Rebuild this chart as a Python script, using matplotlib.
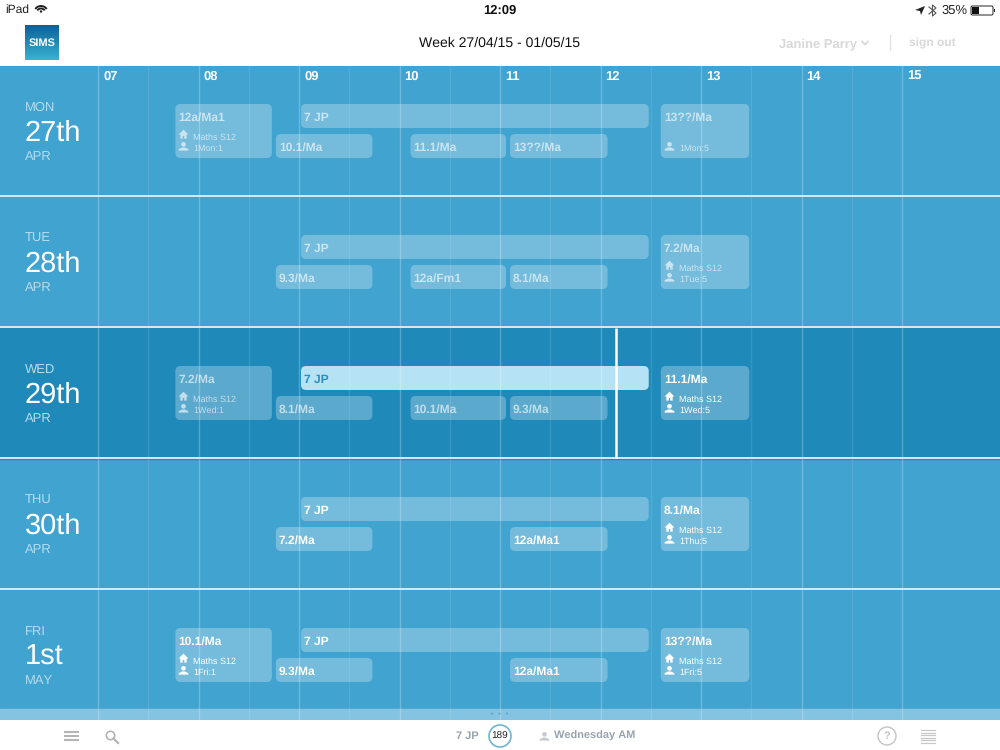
#!/usr/bin/env python

import numpy as np
from matplotlib import pyplot as plt
from matplotlib.patches import FancyBboxPatch, Rectangle, Circle, Arc, Polygon
from matplotlib.path import Path

plt.rcParams['font.family'] = ['Liberation Sans', 'DejaVu Sans']
plt.rcParams['text.hinting'] = 'no_hinting'
plt.rcParams['text.hinting_factor'] = 1

days = ['MON', 'TUE', 'WED', 'THU', 'FRI']
dates = ['27th', '28th', '29th', '30th', '1st']
months = ['APR', 'APR', 'APR', 'APR', 'MAY']
hours = [7, 8, 9, 10, 11, 12, 13, 14, 15]
half_hours = [7.5, 8.5, 9.5, 10.5, 11.5, 12.5, 13.5, 14.5]

reg_start, reg_end = 9.02, 12.48
reg_label = '7 JP'
p1_start, p1_end = 7.77, 8.73
p2_start, p2_end = 8.77, 9.73
p3_start, p3_end = 10.11, 11.06
p4_start, p4_end = 11.10, 12.07
p5_start, p5_end = 12.60, 13.48

p1_labels = ['12a/Ma1', None, '7.2/Ma', None, '10.1/Ma']
p2_labels = ['10.1/Ma', '9.3/Ma', '8.1/Ma', '7.2/Ma', '9.3/Ma']
p3_labels = ['11.1/Ma', '12a/Fm1', '10.1/Ma', None, None]
p4_labels = ['13??/Ma', '8.1/Ma', '9.3/Ma', '12a/Ma1', '12a/Ma1']
p5_labels = ['13??/Ma', '7.2/Ma', '11.1/Ma', '8.1/Ma', '13??/Ma']
p1_rooms = ['Maths S12', None, 'Maths S12', None, 'Maths S12']
p5_rooms = [None, 'Maths S12', 'Maths S12', 'Maths S12', 'Maths S12']
p1_codes = ['1Mon:1', None, '1Wed:1', None, '1Fri:1']
p5_codes = ['1Mon:5', '1Tue:5', '1Wed:5', '1Thu:5', '1Fri:5']

today = 2
now = 12.15

ROW = 131.0
HOUR = 100.5
BLUE = '#41a3d0'
DARK = '#1f8aba'

fig = plt.figure(figsize=(10, 7.5), dpi=100, facecolor='white')
ax = fig.add_axes([0, 30 / 750, 1, 654 / 750])
ax.set_xlim(7 - 98 / HOUR, 7 + 902 / HOUR)
ax.set_ylim(654 / ROW, 0)
ax.axis('off')

# pixel overlay for the app chrome
top = fig.add_axes([0, 0, 1, 1], zorder=5)
top.set_xlim(0, 1000)
top.set_ylim(750, 0)
top.axis('off')
top.patch.set_alpha(0)

# marker paths are y-up
house = Path([(-1, 0), (0, 1), (1, 0), (0.65, 0), (0.65, -0.85), (0.15, -0.85),
              (0.15, -0.3), (-0.15, -0.3), (-0.15, -0.85), (-0.65, -0.85),
              (-0.65, 0), (-1, 0)])
head = Path.circle((0, 0.45), 0.48)
body = Path([(-1, -0.85), (-1, -0.55), (-0.3, -0.2), (0.3, -0.2), (1, -0.55),
             (1, -0.85), (-1, -0.85)])
person = Path.make_compound_path(head, body)

ax.add_patch(Rectangle((ax.get_xlim()[0], 0), 10, 654 / ROW, color=BLUE, zorder=0))
ax.add_patch(Rectangle((ax.get_xlim()[0], today), 10, 1, color=DARK, zorder=0))
ax.add_patch(Rectangle((ax.get_xlim()[0], 643 / ROW), 10, 11 / ROW,
                       color='#84c3e2', zorder=0.5))


def bar(day, start, end, y0, y1, color, alpha=0.27):
    box = FancyBboxPatch((start, day + y0 / ROW), end - start, (y1 - y0) / ROW,
                         boxstyle='round,pad=0,rounding_size=0.05',
                         mutation_aspect=HOUR / ROW, fc=color, ec='none',
                         alpha=alpha, zorder=2)
    ax.add_patch(box)


def lesson(day, start, end, label, tall=False, lower=False, room=None, code=None):
    if label is None:
        return
    past = day < today or (day == today and end < now)
    y0, y1 = 38, 92
    if not tall:
        y0 = 68 if lower else 38
        y1 = y0 + 24
    bar(day, start, end, y0, y1, 'white')
    col = 'white'
    a = 0.62 if past else 1.0
    ax.text(start + 0.03, day + (y0 + 13.5) / ROW, label, color=col, alpha=a,
            fontsize=8.6, fontweight='bold', va='center', zorder=4)
    if room:
        ax.plot(start + 0.08, day + 68 / ROW, marker=house, ms=7, mfc=col, mec='none',
                alpha=a, zorder=4)
        ax.text(start + 0.18, day + 71.5 / ROW, room, color=col, alpha=a,
                fontsize=6.6, va='center', zorder=4)
    if code:
        ax.plot(start + 0.08, day + 80 / ROW, marker=person, ms=7, mfc=col, mec='none',
                alpha=a, zorder=4)
        ax.text(start + 0.18, day + 83 / ROW, code, color=col, alpha=a,
                fontsize=6.6, va='center', zorder=4)


for h in half_hours:
    ax.axvline(h, color='white', alpha=0.1, lw=1, zorder=3)
for h in hours:
    ax.axvline(h, color='white', alpha=0.24, lw=1, zorder=3)
    ax.text(h + 0.05, 10.5 / ROW, '%02d' % h, color='white', fontsize=9.3,
            fontweight='bold', va='center', zorder=4)

for i in range(5):
    ax.text(25 / HOUR + ax.get_xlim()[0], i + 42 / ROW, days[i], color='#b4dcf0',
            fontsize=9.5, va='center')
    ax.text(24.5 / HOUR + ax.get_xlim()[0], i + 67.5 / ROW, dates[i], color='white',
            fontsize=21, va='center')
    ax.text(25 / HOUR + ax.get_xlim()[0], i + 91 / ROW, months[i], color='#b4dcf0',
            fontsize=9.5, va='center')

    if i == today:
        bar(i, reg_start, reg_end, 38, 62, '#b5e3f5', alpha=1.0)
        ax.text(reg_start + 0.03, i + 51.5 / ROW, reg_label, color='#2a8fbf', fontsize=8.6,
                fontweight='bold', va='center', zorder=4)
    else:
        lesson(i, reg_start, reg_end, reg_label)
    lesson(i, p1_start, p1_end, p1_labels[i], tall=True, room=p1_rooms[i], code=p1_codes[i])
    lesson(i, p2_start, p2_end, p2_labels[i], lower=True)
    lesson(i, p3_start, p3_end, p3_labels[i], lower=True)
    lesson(i, p4_start, p4_end, p4_labels[i], lower=True)
    lesson(i, p5_start, p5_end, p5_labels[i], tall=True, room=p5_rooms[i], code=p5_codes[i])

for i in range(1, 5):
    ax.axhline(i - 0.7 / ROW, color='#d3ebf6', lw=1.4, zorder=3)
ax.plot([now, now], [today, today + 1 - 0.7 / ROW], color='white', lw=1.8, zorder=5,
        solid_capstyle='butt')

# status bar
top.text(5, 10, 'iPad', color='#222222', fontsize=8.5, va='center')
for r, t in [(7, 1.4), (4.5, 1.4)]:
    top.add_patch(Arc((41, 13), 2 * r, 2 * r, theta1=215, theta2=325, color='#222222', lw=t))
top.add_patch(Circle((41, 11.5), 1.2, color='#222222', lw=0))
top.text(500, 10.5, '12:09', color='#111111', fontsize=9, fontweight='bold',
         ha='center', va='center')
top.add_patch(Polygon([(915, 10), (925, 6), (921, 15), (920, 11)], color='#222222', lw=0))
top.plot([929, 936, 932.5, 932.5, 936, 929], [7, 13, 16, 5, 8, 14], color='#555555', lw=0.8)
top.text(942, 10.5, '35%', color='#222222', fontsize=9, va='center')
top.add_patch(FancyBboxPatch((971, 6), 22, 9, boxstyle='round,pad=0,rounding_size=1.5',
                             fc='white', ec='#222222', lw=0.7))
top.add_patch(Rectangle((972, 7), 7, 7, color='#111111', lw=0))
top.add_patch(Rectangle((993.5, 9), 1.2, 3, color='#222222', lw=0))

# header
grad = np.linspace(0, 1, 40)[:, None]
logo_top = np.array([0.05, 0.38, 0.60])
logo_bot = np.array([0.22, 0.70, 0.82])
logo = logo_top + (logo_bot - logo_top) * grad[:, :, None]
top.imshow(logo, extent=(25, 59, 60, 25), aspect='auto', zorder=1)
top.set_xlim(0, 1000)
top.set_ylim(750, 0)
top.text(42, 43, 'SIMS', color='white', fontsize=8, fontweight='bold',
         ha='center', va='center', zorder=2)
top.text(500, 43.5, 'Week 27/04/15 - 01/05/15', color='#111111', fontsize=10.1,
         ha='center', va='center')
top.text(779, 45, 'Janine Parry', color='#d8d8d8', fontsize=9, fontweight='bold', va='center')
top.plot([862, 865, 868], [41.5, 44.5, 41.5], color='#d8d8d8', lw=1.2)
top.plot([890, 890], [35, 50], color='#e2e2e2', lw=1)
top.text(909, 43.5, 'sign out', color='#d8d8d8', fontsize=8.8, fontweight='bold', va='center')

# footer
for y in [731.5, 735.5, 739.5]:
    top.plot([65, 68], [y, y], color='#b5b5b5', lw=1.5)
    top.plot([69.5, 78], [y, y], color='#b5b5b5', lw=1.5)
top.add_patch(Circle((110.5, 735.5), 4.2, fc='none', ec='#b5b5b5', lw=1.2))
top.plot([113.5, 118], [738.5, 743], color='#b5b5b5', lw=1.6)
for x in [492, 499.5, 507]:
    top.add_patch(Circle((x, 713.5), 1.1, color='#5fa8cc', lw=0))
top.text(467, 736, '7 JP', color='#9aa3ad', fontsize=7.8, fontweight='bold',
         ha='center', va='center')
top.add_patch(Circle((500, 736), 11, fc='white', ec='#6fb5d2', lw=1.2))
top.text(500, 736.5, '189', color='#222222', fontsize=7.5, ha='center', va='center')
top.plot([543.5], [735.5], marker=person, ms=7, mfc='#c8ccd0', mec='none')
top.text(554, 736, 'Wednesday AM', color='#9aa3ad', fontsize=8.1, fontweight='bold', va='center')
top.add_patch(Circle((887, 736), 9, fc='none', ec='#c4c4c4', lw=1))
top.text(887, 736.5, '?', color='#c4c4c4', fontsize=8, fontweight='bold', ha='center', va='center')
for y in np.arange(730, 744, 2.6):
    top.plot([921, 935], [y, y], color='#c8c8c8', lw=0.9)

fig.savefig('out.png', dpi=100, facecolor='white')
